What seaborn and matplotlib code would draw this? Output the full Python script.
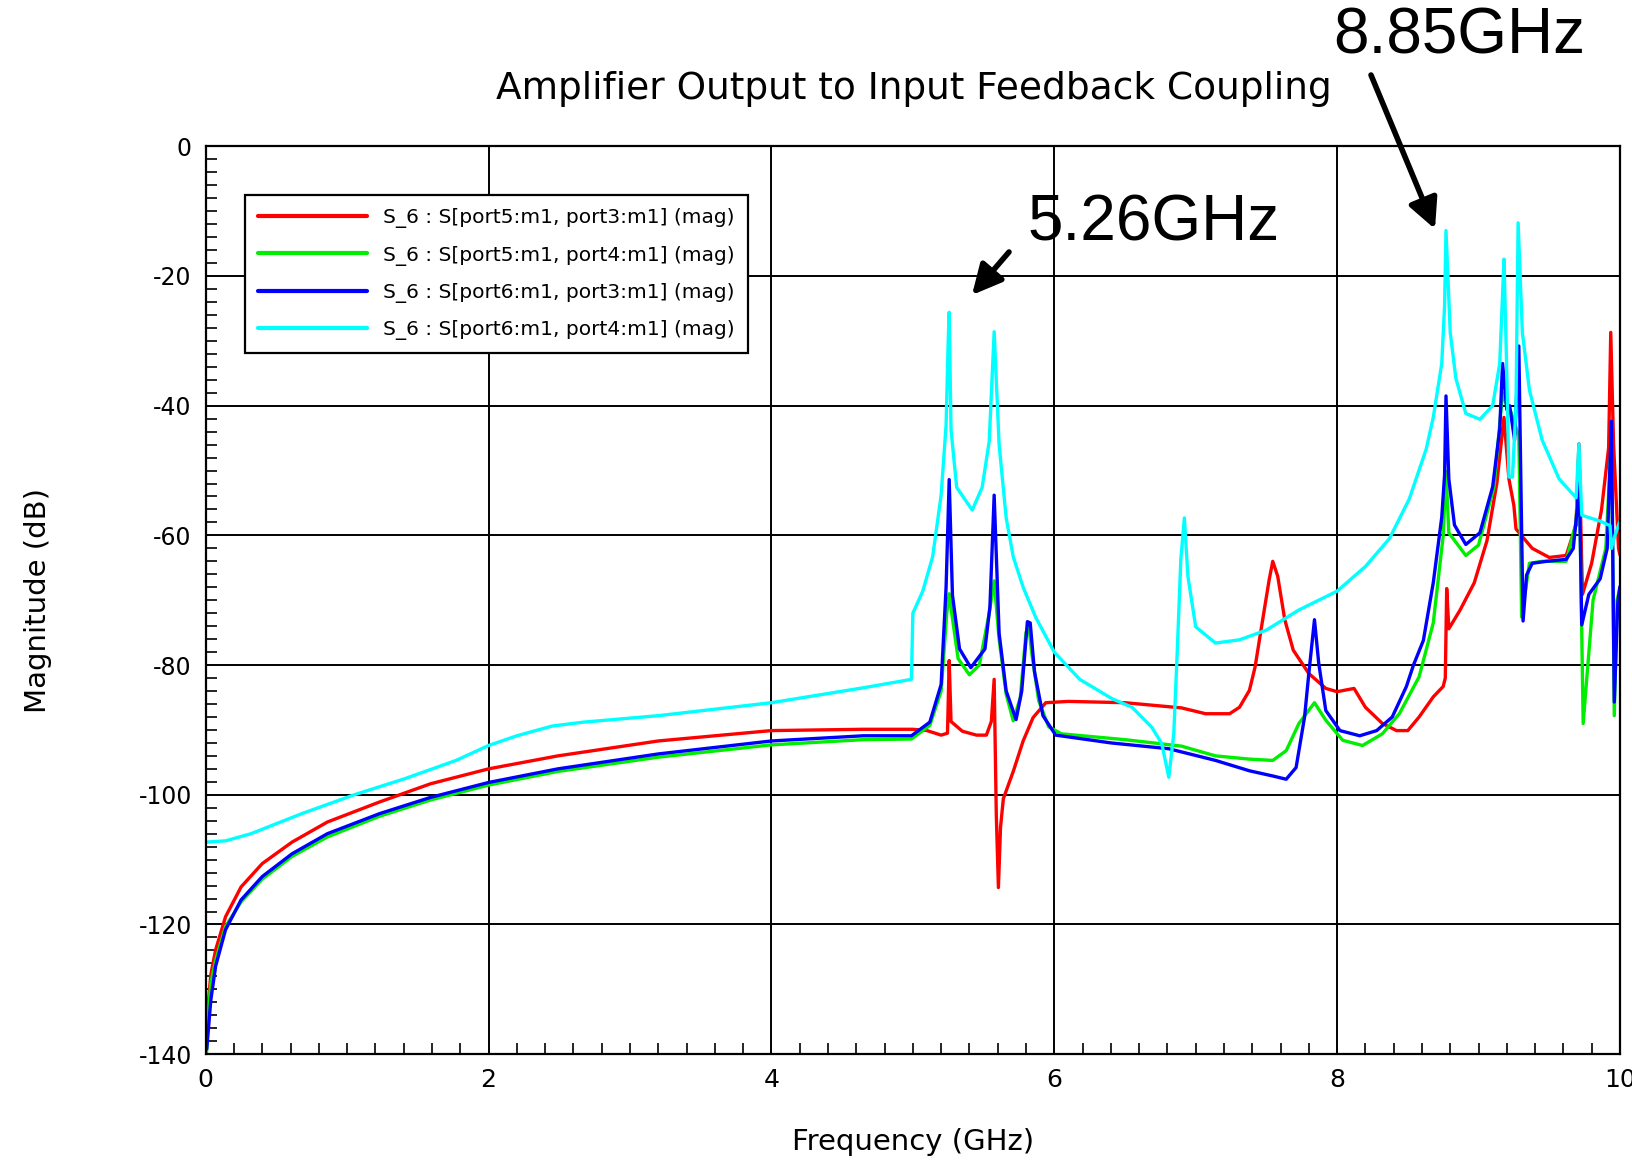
import numpy as np
import pandas as pd
import matplotlib
matplotlib.use("Agg")
import matplotlib.pyplot as plt
import seaborn as sns

# ---------------- data ----------------
series_names = [
    "S_6 : S[port5:m1, port3:m1] (mag)",
    "S_6 : S[port5:m1, port4:m1] (mag)",
    "S_6 : S[port6:m1, port3:m1] (mag)",
    "S_6 : S[port6:m1, port4:m1] (mag)",
]
series_colors = ["#ff0000", "#00ee00", "#0000ff", "#00ffff"]

red_f = [0.005, 0.02, 0.036, 0.07, 0.14, 0.25, 0.4, 0.61, 0.86, 1.23, 1.59, 2.0, 2.49, 3.2, 4.0,
         4.65, 5.0, 5.1, 5.2, 5.245, 5.257, 5.27, 5.35, 5.45, 5.52, 5.555, 5.575, 5.59, 5.605,
         5.62, 5.64, 5.71, 5.78, 5.85, 5.94, 6.1, 6.5, 6.9, 7.07, 7.24, 7.31, 7.38, 7.42, 7.47,
         7.52, 7.545, 7.58, 7.63, 7.69, 7.80, 7.92, 8.0, 8.12, 8.2, 8.32, 8.42, 8.5, 8.58, 8.68,
         8.75, 8.765, 8.775, 8.79, 8.87, 8.97, 9.06, 9.13, 9.18, 9.215, 9.25, 9.265, 9.31, 9.38,
         9.5, 9.62, 9.69, 9.71, 9.735, 9.80, 9.87, 9.92, 9.935, 9.955, 9.99, 10.0]
red_db = [-137, -131.6, -127.7, -123.9, -118.8, -114.2, -110.6, -107.3, -104.2, -101.1, -98.3,
          -96.0, -94.0, -91.7, -90.1, -89.9, -89.9, -90.1, -90.8, -90.5, -79.3, -88.7, -90.2,
          -90.8, -90.8, -88.7, -82.2, -103, -114.3, -105, -100.6, -96.4, -91.7, -88.1, -85.8,
          -85.6, -85.8, -86.6, -87.5, -87.5, -86.5, -83.9, -80.3, -73.5, -66.8, -64.0, -66.3,
          -73.0, -77.7, -81.3, -83.6, -84.1, -83.6, -86.5, -89.0, -90.1, -90.1, -88.0, -84.9,
          -83.3, -82.0, -68.2, -74.4, -71.5, -67.3, -60.8, -51.9, -41.8, -51.3, -55.4, -59.0,
          -60.2, -62.0, -63.4, -63.1, -58.4, -45.9, -69.1, -64.3, -56.0, -46.5, -28.7, -46.0,
          -62.0, -63.0]

green_f = [0.005, 0.02, 0.036, 0.07, 0.14, 0.25, 0.4, 0.61, 0.86, 1.23, 1.59, 2.0, 2.49, 3.2,
           4.0, 4.65, 4.99, 5.12, 5.2, 5.24, 5.257, 5.275, 5.32, 5.4, 5.47, 5.54, 5.575, 5.61,
           5.66, 5.71, 5.76, 5.80, 5.82, 5.84, 5.89, 5.96, 6.05, 6.5, 6.9, 7.14, 7.38, 7.545,
           7.64, 7.73, 7.84, 7.92, 8.04, 8.18, 8.32, 8.44, 8.58, 8.68, 8.75, 8.77, 8.79, 8.91,
           9.0, 9.11, 9.17, 9.2, 9.23, 9.285, 9.305, 9.36, 9.45, 9.62, 9.69, 9.71, 9.74, 9.81,
           9.9, 9.94, 9.96, 9.98, 10.0]
green_db = [-140, -133, -129, -125.5, -120.3, -116.5, -113, -109.5, -106.5, -103.3, -100.8,
            -98.5, -96.4, -94.2, -92.3, -91.5, -91.4, -89.3, -84, -72, -69, -72, -79, -81.5,
            -80, -72, -67, -76, -84.5, -88.6, -85, -75, -74, -78, -85.5, -89.5, -90.6, -91.5,
            -92.5, -94, -94.5, -94.7, -93.2, -89, -85.8, -88.5, -91.6, -92.4, -90.6, -87.5,
            -81.8, -73.5, -60.1, -50.1, -59.6, -63.1, -61.5, -52.5, -38, -40, -41, -44.7,
            -72.6, -64.3, -64, -64, -58, -47, -89, -70, -62, -45, -87.8, -70, -68]

blue_f = [0.007, 0.036, 0.07, 0.14, 0.25, 0.4, 0.61, 0.86, 1.23, 1.59, 2.0, 2.49, 3.2, 4.0,
          4.65, 4.99, 5.12, 5.2, 5.235, 5.257, 5.28, 5.33, 5.41, 5.51, 5.545, 5.575, 5.61, 5.66,
          5.73, 5.77, 5.81, 5.83, 5.86, 5.92, 6.01, 6.4, 6.81, 7.14, 7.38, 7.545, 7.64, 7.71,
          7.77, 7.80, 7.84, 7.87, 7.92, 8.02, 8.16, 8.28, 8.39, 8.49, 8.54, 8.61, 8.68, 8.74,
          8.76, 8.77, 8.79, 8.83, 8.91, 9.01, 9.10, 9.15, 9.17, 9.2, 9.22, 9.255, 9.285, 9.30,
          9.315, 9.34, 9.38, 9.48, 9.62, 9.67, 9.70, 9.71, 9.73, 9.78, 9.86, 9.91, 9.94, 9.96,
          9.985, 10.0]
blue_db = [-139.2, -131.6, -126.4, -120.8, -116.2, -112.6, -109.1, -106, -102.9, -100.4, -98.1,
           -96, -93.7, -91.7, -90.9, -90.9, -88.8, -83, -68, -51.4, -69.2, -77.5, -80.4, -77.5,
           -71, -53.8, -75.1, -84, -88.4, -84, -73.3, -73.5, -81, -87.8, -90.8, -92, -92.9,
           -94.7, -96.3, -97.1, -97.6, -95.8, -88, -81.3, -73, -79.7, -87, -90.1, -90.9, -90.1,
           -88, -83.3, -80, -76.2, -67.3, -57.2, -50.7, -38.5, -51.3, -58.4, -61.4, -59.6,
           -52.5, -43.6, -33.5, -40.6, -40, -45.3, -30.8, -52.5, -73.2, -66.1, -64.3, -64,
           -63.7, -62, -55.5, -47.7, -73.8, -69.1, -66.7, -62, -42.4, -85.7, -70.3, -67.9]

cyan_f = [0.0, 0.14, 0.32, 0.68, 1.05, 1.41, 1.77, 2.0, 2.2, 2.45, 2.67, 3.2, 4.0, 4.65, 4.99,
          5.0, 5.07, 5.14, 5.2, 5.235, 5.25, 5.257, 5.27, 5.31, 5.42, 5.49, 5.54, 5.575, 5.61,
          5.66, 5.71, 5.78, 5.87, 6.0, 6.18, 6.41, 6.55, 6.69, 6.76, 6.81, 6.845, 6.87, 6.895,
          6.92, 6.945, 7.0, 7.14, 7.31, 7.5, 7.73, 8.0, 8.2, 8.37, 8.51, 8.63, 8.68, 8.74, 8.76,
          8.77, 8.80, 8.84, 8.91, 9.01, 9.10, 9.15, 9.17, 9.18, 9.2, 9.215, 9.24, 9.265, 9.28,
          9.31, 9.36, 9.45, 9.57, 9.69, 9.71, 9.73, 9.86, 9.93, 9.94, 9.965, 10.0]
cyan_db = [-107.3, -107.1, -106, -102.9, -100, -97.5, -94.7, -92.4, -90.9, -89.4, -88.8, -87.8,
           -85.8, -83.5, -82.2, -72, -68.6, -63.3, -53.8, -43, -30, -25.6, -43.7, -52.6, -56.1,
           -52.6, -45.5, -28.6, -46, -57.3, -63.3, -68, -72.7, -78, -82.2, -85.2, -86.5, -89.6,
           -92.1, -97.3, -90.6, -77.7, -63.7, -57.3, -66.3, -74.1, -76.6, -76.1, -74.6, -71.5,
           -68.6, -64.8, -60.5, -54.4, -46.7, -41.8, -33.5, -24.6, -13, -28.7, -35.8, -41.2,
           -42.1, -40, -33.5, -22.8, -17.4, -35, -51, -51, -40, -11.8, -28.7, -37.6, -45.3,
           -51.3, -54.2, -45.9, -56.9, -57.8, -58.5, -62, -60, -57.8]

x_ticks = [0, 2, 4, 6, 8, 10]
y_ticks = [0, -20, -40, -60, -80, -100, -120, -140]

title_text = "Amplifier Output to Input Feedback Coupling"
x_label = "Frequency (GHz)"
y_label = "Magnitude (dB)"
annot_labels = ["8.85GHz", "5.26GHz"]

# ---------------- build long-form table ----------------
frames = []
for name, f, d in zip(series_names,
                      [red_f, green_f, blue_f, cyan_f],
                      [red_db, green_db, blue_db, cyan_db]):
    frames.append(pd.DataFrame({"freq": f, "mag": d, "trace": name}))
df = pd.concat(frames, ignore_index=True)

sns.set_style("white")
plt.rcParams["font.family"] = ["DejaVu Sans"]
plt.rcParams["axes.unicode_minus"] = False
plt.rcParams["text.color"] = "black"
plt.rcParams["axes.labelcolor"] = "black"
plt.rcParams["xtick.color"] = "black"
plt.rcParams["ytick.color"] = "black"

fig = plt.figure(figsize=(16.33, 11.61), dpi=100)
ax = fig.add_axes([0.126, 0.092, 0.866, 0.782])

sns.lineplot(data=df, x="freq", y="mag", hue="trace", hue_order=series_names,
             palette=dict(zip(series_names, series_colors)), estimator=None, sort=False,
             linewidth=2.4, ax=ax, legend=True)

ax.set_xlim(0, 10)
ax.set_ylim(-140, 0)
ax.set_xticks(x_ticks)
ax.set_yticks(y_ticks)
ax.set_xticklabels([str(v) for v in x_ticks], fontsize=18)
ax.set_yticklabels([str(v) for v in y_ticks], fontsize=17)
ax.set_xticks(np.arange(0, 10.01, 0.2), minor=True)
ax.set_yticks(np.arange(-140, 0.01, 2), minor=True)
ax.tick_params(axis="both", which="major", direction="in", length=0, pad=10,
               labelcolor="black")
ax.tick_params(axis="both", which="minor", direction="in", length=8, width=1.2,
               color="black", top=False, right=False, bottom=True, left=True)
ax.grid(True, which="major", color="black", linewidth=1.4)
for sp in ax.spines.values():
    sp.set_color("black")
    sp.set_linewidth(1.6)

ax.set_xlabel(x_label, fontsize=21, labelpad=26, color="black")
ax.set_ylabel(y_label, fontsize=21, labelpad=62, color="black")

handles, labels = ax.get_legend_handles_labels()
leg = ax.legend(handles, labels, loc="upper left", bbox_to_anchor=(0.028, 0.946),
                borderaxespad=0, fontsize=14.5, handlelength=5.4, labelspacing=0.85,
                borderpad=0.65, frameon=True, fancybox=False, edgecolor="black", framealpha=1)
leg.get_frame().set_linewidth(1.6)
for txt in leg.get_texts():
    txt.set_color("black")
for lh in leg.get_lines():
    lh.set_linewidth(3)

fig.text(914 / 1633, 1 - 89 / 1161, title_text, ha="center", va="center", fontsize=27,
         color="black")

# annotations with arrows (figure pixel positions from the reference)
fig.text(1459 / 1633, 1 - 36 / 1161, annot_labels[0], ha="center", va="center",
         fontsize=46, family="Liberation Sans", color="black")
fig.text(1154 / 1633, 1 - 224 / 1161, annot_labels[1], ha="center", va="center",
         fontsize=46, family="Liberation Sans", color="black")
ax.annotate("", xy=(1435 / 1633, 1 - 229 / 1161), xycoords="figure fraction",
            xytext=(1371 / 1633, 1 - 75 / 1161), textcoords="figure fraction",
            arrowprops=dict(arrowstyle="-|>", lw=4, color="black", mutation_scale=45,
                            shrinkA=0, shrinkB=0))
ax.annotate("", xy=(972 / 1633, 1 - 295 / 1161), xycoords="figure fraction",
            xytext=(1009 / 1633, 1 - 252 / 1161), textcoords="figure fraction",
            arrowprops=dict(arrowstyle="-|>", lw=4, color="black", mutation_scale=45,
                            shrinkA=0, shrinkB=0))

fig.savefig("out.png", dpi=100, facecolor="white")
